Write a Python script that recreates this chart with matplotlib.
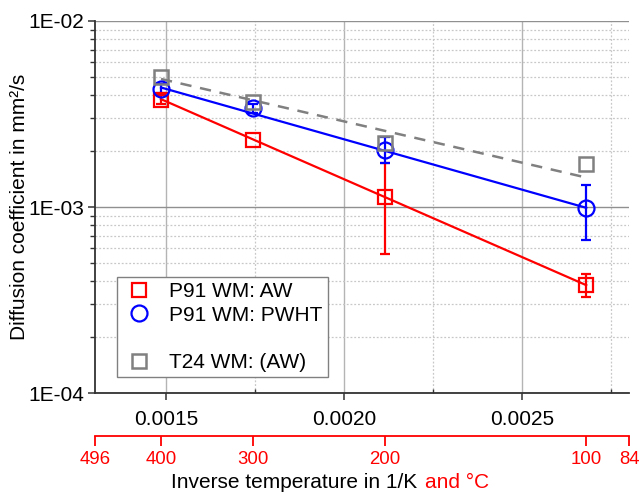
import numpy as np
import matplotlib
matplotlib.use("Agg")
import matplotlib.pyplot as plt
from matplotlib.lines import Line2D
from matplotlib.ticker import FixedLocator, FixedFormatter, LogLocator, NullFormatter

plt.rcParams['font.family'] = ['Liberation Sans', 'DejaVu Sans']

# ---- data ----
temps_C = [400, 300, 200, 100]
aw = [3.78e-3, 2.29e-3, 1.13e-3, 3.80e-4]
aw_lo = [3.56e-3, np.nan, 5.6e-4, 3.27e-4]
aw_hi = [4.00e-3, np.nan, 1.72e-3, 4.36e-4]
pwht = [4.33e-3, 3.40e-3, 2.02e-3, 9.9e-4]
pwht_lo = [4.10e-3, 3.22e-3, 1.72e-3, 6.66e-4]
pwht_hi = [4.58e-3, 3.60e-3, 2.39e-3, 1.32e-3]
t24 = [4.98e-3, 3.68e-3, 2.20e-3, 1.70e-3]

fit_C = [400, 100]
aw_fit = [3.80e-3, 3.80e-4]
pwht_fit = [4.39e-3, 9.9e-4]
t24_fit = [4.88e-3, 1.44e-3]

x_ticks = [0.0015, 0.0020, 0.0025]
x_ticklabels = ["0.0015", "0.0020", "0.0025"]
x_minor = [0.00175, 0.00225, 0.00275]
y_ticks = [1e-4, 1e-3, 1e-2]
y_ticklabels = ["1E-04", "1E-03", "1E-02"]
c_ticks = [496, 400, 300, 200, 100, 84]
legend_labels = ["P91 WM: AW", "P91 WM: PWHT", " ", "T24 WM: (AW)"]

def inv(T):
    return 1.0 / (np.asarray(T, dtype=float) + 273.15)

RED = "#ff0000"
BLUE = "#0000ff"
GRAY = "#808080"

fig = plt.figure(figsize=(6.44, 4.94), dpi=100)
ax = fig.add_axes([95/644, 101/494, 534/644, 372/494])

ax.set_yscale("log")
ax.set_xlim(inv(496), inv(84))
ax.set_ylim(1e-4, 1e-2)

# grid
ax.set_xticks(x_ticks)
ax.set_xticklabels(x_ticklabels)
ax.xaxis.set_minor_locator(FixedLocator(x_minor))
ax.yaxis.set_major_locator(FixedLocator(y_ticks))
ax.yaxis.set_major_formatter(FixedFormatter(y_ticklabels))
ax.yaxis.set_minor_locator(LogLocator(base=10, subs=np.arange(2, 10)))
ax.yaxis.set_minor_formatter(NullFormatter())

ax.grid(True, which="major", axis="x", color="#b4b4b4", lw=1.0, ls="-")
ax.grid(True, which="major", axis="y", color="#909090", lw=1.0, ls="-")
ax.grid(True, which="minor", color="#c8c8c8", lw=0.9, ls=(0, (1.5, 1.5)))
ax.set_axisbelow(True)

for s in ["top", "right"]:
    ax.spines[s].set_visible(False)
for s in ["left", "bottom"]:
    ax.spines[s].set_color("#333333")
    ax.spines[s].set_linewidth(1.3)

ax.tick_params(axis="both", which="major", labelsize=15, direction="out",
               length=5, width=1.1, color="#333333", pad=3)
ax.tick_params(axis="y", which="minor", direction="out", length=3.5, width=1.0, color="#333333")
ax.tick_params(axis="x", which="minor", direction="in", length=3, width=1.0, color="#333333")
ax.tick_params(axis="x", which="major", pad=7)

# fit lines
ax.plot(inv(fit_C), aw_fit, color=RED, lw=1.6, zorder=3)
ax.plot(inv(fit_C), pwht_fit, color=BLUE, lw=1.6, zorder=3)
ax.plot(inv(fit_C), t24_fit, color=GRAY, lw=1.8, ls=(0, (4.5, 3.5)), zorder=3)

x = inv(temps_C)

def draw_err(vals, lo, hi, color):
    vals = np.array(vals); lo = np.array(lo); hi = np.array(hi)
    m = np.isfinite(lo)
    ax.errorbar(x[m], vals[m], yerr=[vals[m] - lo[m], hi[m] - vals[m]], fmt="none",
                ecolor=color, elinewidth=1.6, capsize=3.5, capthick=1.6, zorder=4)

draw_err(aw, aw_lo, aw_hi, RED)
draw_err(pwht, pwht_lo, pwht_hi, BLUE)

ax.plot(x, aw, ls="none", marker="s", ms=10, mfc="none", mec=RED, mew=1.6, zorder=5)
ax.plot(x, pwht, ls="none", marker="o", ms=11.5, mfc="none", mec=BLUE, mew=1.6, zorder=5)
ax.plot(x, t24, ls="none", marker="s", ms=10, mfc="none", mec=GRAY, mew=1.8, zorder=5)

ax.set_ylabel("Diffusion coefficient in mm²/s", fontsize=15, labelpad=-1)

# legend
handles = [
    Line2D([], [], ls="none", marker="s", ms=10, mfc="none", mec=RED, mew=1.6),
    Line2D([], [], ls="none", marker="o", ms=11.5, mfc="none", mec=BLUE, mew=1.6),
    Line2D([], [], ls="none"),
    Line2D([], [], ls="none", marker="s", ms=10, mfc="none", mec=GRAY, mew=1.8),
]
leg = ax.legend(handles, legend_labels, loc="lower left", bbox_to_anchor=(0.041, 0.043),
                borderaxespad=0, fontsize=15, frameon=True, fancybox=False,
                edgecolor=GRAY, framealpha=1, labelspacing=0.22, handlelength=1.6,
                handletextpad=0.65, borderpad=0.25)
leg.get_frame().set_linewidth(1.0)

# secondary (°C) axis
ax2 = ax.twiny()
ax2.set_xlim(ax.get_xlim())
ax2.xaxis.set_ticks_position("bottom")
ax2.xaxis.set_label_position("bottom")
ax2.spines["bottom"].set_position(("outward", 30.7))
for s in ["top", "right", "left"]:
    ax2.spines[s].set_visible(False)
ax2.spines["bottom"].set_color(RED)
ax2.spines["bottom"].set_linewidth(1.3)
ax2.set_xticks(inv(c_ticks))
ax2.set_xticklabels([str(c) for c in c_ticks])
ax2.tick_params(axis="x", colors=RED, labelsize=13.4, direction="out", length=7, width=1.3, pad=4)
ax2.xaxis.set_minor_locator(FixedLocator([]))

# x label (two colours)
fig.text(417/644, 1 - 488/494, "Inverse temperature in 1/K", ha="right", va="baseline",
         fontsize=15, color="black")
fig.text(425/644, 1 - 488/494, "and °C", ha="left", va="baseline", fontsize=15, color=RED)

fig.savefig("out.png", dpi=100)
